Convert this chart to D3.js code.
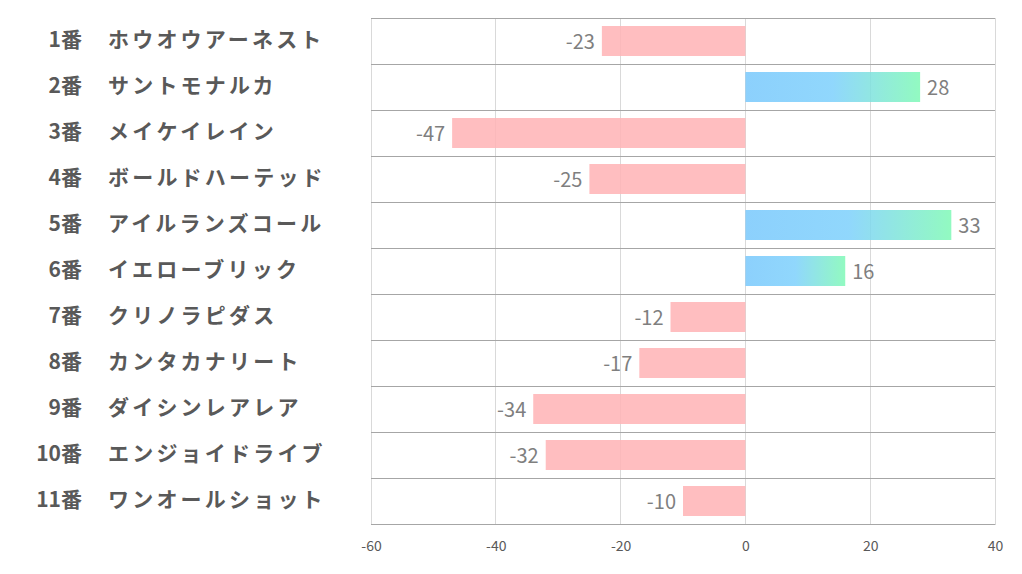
<!DOCTYPE html>
<html><head><meta charset="utf-8">
<script src="https://cdn.jsdelivr.net/npm/d3@7"></script>
<style>body{margin:0;background:#fff}svg{display:block}</style>
</head><body><svg id="c" width="1022" height="574"></svg>
<script>
const numbers = ["1番","2番","3番","4番","5番","6番","7番","8番","9番","10番","11番"];
const names = ["ホウオウアーネスト","サントモナルカ","メイケイレイン","ボールドハーテッド","アイルランズコール","イエローブリック","クリノラピダス","カンタカナリート","ダイシンレアレア","エンジョイドライブ","ワンオールショット"];
const values = [-23,28,-47,-25,33,16,-12,-17,-34,-32,-10];
const xTicks = [-60,-40,-20,0,20,40];

const svg = d3.select("#c");
const L=371,R=995,T=18,B=524;
const x = d3.scaleLinear().domain([-60,40]).range([L,R]);
const y = d3.scaleBand().domain(d3.range(values.length)).range([T,B]).paddingInner(0.348).paddingOuter(0.174);
const font = "'Noto Sans CJK JP','Noto Sans',sans-serif";

const defs = svg.append("defs");
const g = defs.append("linearGradient").attr("id","pg").attr("x1","0").attr("x2","1").attr("y1","0").attr("y2","0");
g.append("stop").attr("offset","0").attr("stop-color","#78c8fc");
g.append("stop").attr("offset","0.5").attr("stop-color","#7dd0fc");
g.append("stop").attr("offset","1").attr("stop-color","#7ff9b6");

svg.append("g").selectAll("line").data(xTicks).join("line")
  .attr("x1",d=>x(d)).attr("x2",d=>x(d)).attr("y1",T).attr("y2",B)
  .attr("stroke","#d9d9d9").attr("stroke-width",1).attr("shape-rendering","crispEdges");
const bounds = d3.range(values.length+1).map(i=>T+i*(B-T)/values.length);
svg.append("g").selectAll("line").data(bounds).join("line")
  .attr("x1",L).attr("x2",R).attr("y1",d=>Math.round(d)).attr("y2",d=>Math.round(d))
  .attr("stroke","#a6a6a6").attr("stroke-width",1).attr("shape-rendering","crispEdges");

svg.append("g").selectAll("rect").data(values).join("rect")
  .attr("x",d=>x(Math.min(0,d))).attr("width",d=>Math.abs(x(d)-x(0)))
  .attr("y",(d,i)=>y(i)).attr("height",y.bandwidth())
  .attr("fill",d=>d<0?"#ffb3b5":"url(#pg)").attr("fill-opacity",0.85);

svg.append("g").selectAll("text").data(values).join("text")
  .attr("x",d=>d<0?x(d)-7:x(d)+7)
  .attr("y",(d,i)=>y(i)+y.bandwidth()/2)
  .attr("dy","0.42em")
  .attr("text-anchor",d=>d<0?"end":"start")
  .attr("font-family",font).attr("font-size",20).attr("fill","#7f7f7f")
  .text(d=>String(d));

const rowMid = i=>T+(i+0.5)*(B-T)/values.length;
svg.append("g").selectAll("text").data(numbers).join("text")
  .attr("x",82).attr("y",(d,i)=>rowMid(i)).attr("dy","0.3em")
  .attr("text-anchor","end").attr("font-family",font).attr("font-weight","bold")
  .attr("font-size",21).attr("fill","#595959").text(d=>d);
svg.append("g").selectAll("text").data(names).join("text")
  .attr("x",108).attr("y",(d,i)=>rowMid(i)).attr("dy","0.3em")
  .attr("text-anchor","start").attr("font-family",font).attr("font-weight","bold")
  .attr("font-size",21).attr("letter-spacing","3.2px").attr("fill","#595959").text(d=>d);

const ax = svg.append("g").attr("transform",`translate(0,${B})`)
  .call(d3.axisBottom(x).tickValues(xTicks).tickSize(0).tickPadding(17).tickFormat(d=>String(d)));
ax.select(".domain").attr("stroke","#a6a6a6");
ax.selectAll("text").attr("font-family",font).attr("font-size",14).attr("fill","#595959");
</script></body></html>
